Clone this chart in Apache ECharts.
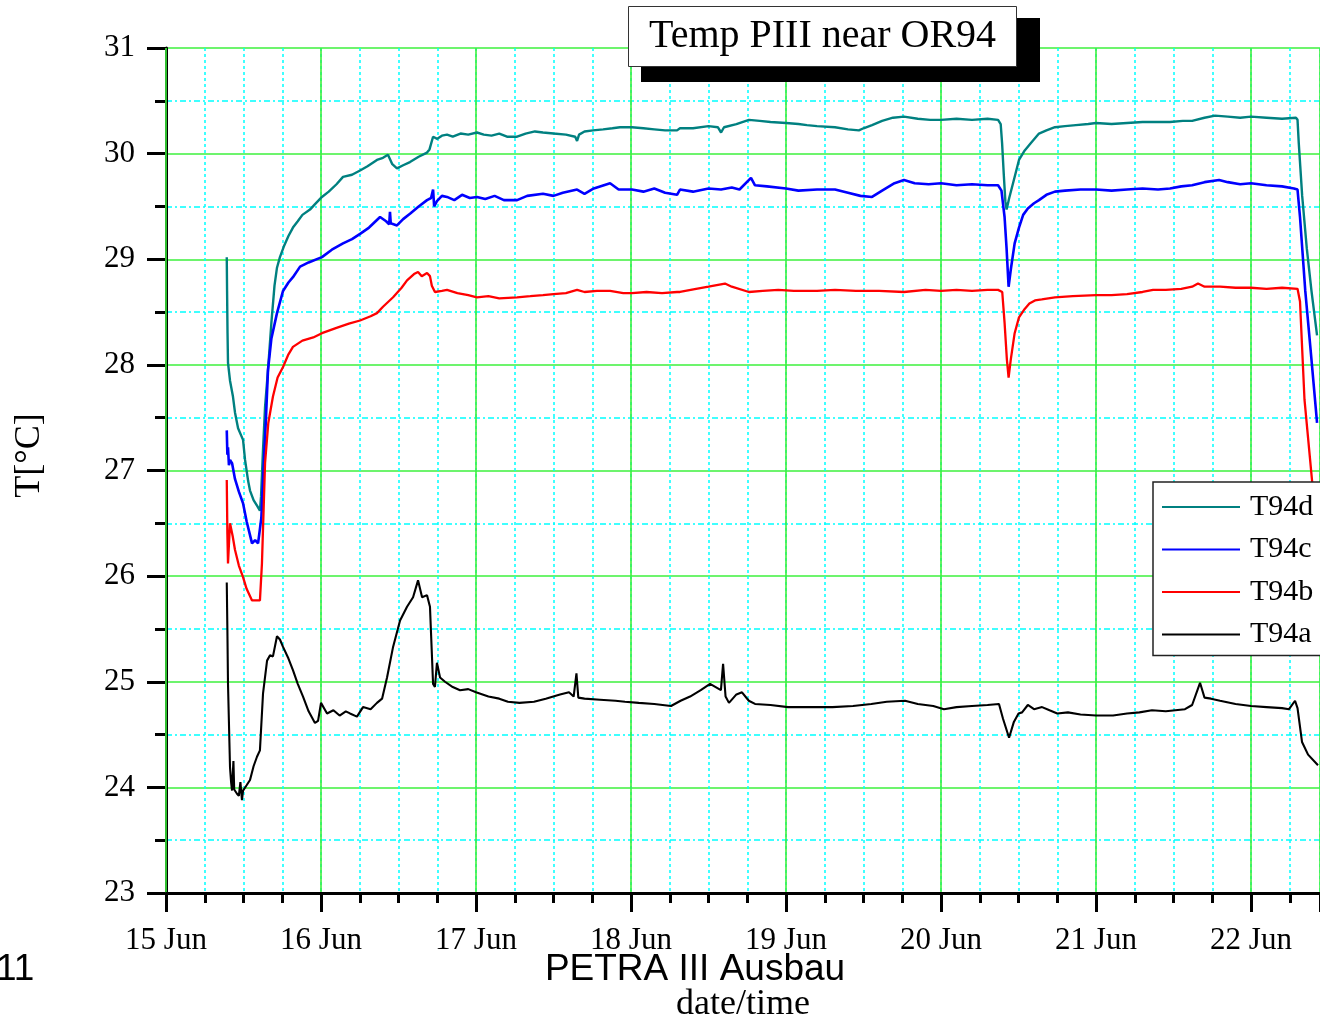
<!DOCTYPE html>
<html>
<head>
<meta charset="utf-8">
<script src="https://cdn.jsdelivr.net/npm/echarts@6/dist/echarts.min.js"></script>
<style>
html,body{margin:0;padding:0;background:#fff;}
#chart{width:1320px;height:1017px;}
</style>
</head>
<body>
<div id="chart"></div>
<script>
// x = day of June (decimal), y = temperature in °C
const seriesNames = ['T94d', 'T94c', 'T94b', 'T94a'];
const seriesColors = ['#008080', '#0000ff', '#ff0000', '#000000'];
const xTickLabels = {15:'15 Jun',16:'16 Jun',17:'17 Jun',18:'18 Jun',19:'19 Jun',20:'20 Jun',21:'21 Jun',22:'22 Jun'};
const yTickLabels = {23:'23',24:'24',25:'25',26:'26',27:'27',28:'28',29:'29',30:'30',31:'31'};

const T94d = [
[15.392,29.02],[15.394,28.70],[15.397,28.30],[15.400,28.02],[15.413,27.85],[15.432,27.70],[15.445,27.55],[15.465,27.40],
[15.497,27.29],[15.510,27.10],[15.530,26.90],[15.542,26.81],[15.565,26.72],[15.590,26.66],[15.606,26.62],[15.613,26.75],
[15.626,27.20],[15.639,27.60],[15.658,27.95],[15.680,28.40],[15.700,28.75],[15.716,28.92],[15.735,29.02],[15.760,29.12],
[15.790,29.22],[15.819,29.30],[15.850,29.36],[15.880,29.42],[15.929,29.47],[15.960,29.52],[16.006,29.59],[16.050,29.64],
[16.100,29.71],[16.142,29.78],[16.200,29.80],[16.252,29.84],[16.300,29.88],[16.361,29.94],[16.400,29.96],[16.432,29.99],
[16.460,29.90],[16.490,29.86],[16.530,29.89],[16.574,29.92],[16.630,29.97],[16.684,30.01],[16.700,30.04],[16.723,30.16],
[16.750,30.14],[16.780,30.17],[16.813,30.18],[16.850,30.16],[16.900,30.19],[16.950,30.18],[17.006,30.20],[17.050,30.18],
[17.100,30.17],[17.150,30.19],[17.200,30.16],[17.265,30.16],[17.320,30.19],[17.380,30.21],[17.432,30.20],[17.500,30.19],
[17.580,30.18],[17.640,30.16],[17.652,30.12],[17.665,30.18],[17.700,30.21],[17.755,30.22],[17.820,30.23],[17.880,30.24],
[17.929,30.25],[18.006,30.25],[18.080,30.24],[18.150,30.23],[18.220,30.22],[18.297,30.22],[18.316,30.24],[18.400,30.24],
[18.500,30.26],[18.560,30.25],[18.581,30.20],[18.600,30.25],[18.680,30.28],[18.761,30.32],[18.830,30.31],[18.900,30.30],
[19.000,30.29],[19.080,30.28],[19.135,30.27],[19.200,30.26],[19.316,30.25],[19.400,30.23],[19.470,30.22],[19.500,30.24],
[19.555,30.27],[19.620,30.31],[19.690,30.34],[19.761,30.35],[19.850,30.33],[19.930,30.32],[20.000,30.32],[20.100,30.33],
[20.200,30.32],[20.300,30.33],[20.368,30.32],[20.385,30.28],[20.394,30.10],[20.405,29.80],[20.415,29.55],[20.423,29.47],
[20.440,29.58],[20.470,29.75],[20.503,29.94],[20.540,30.03],[20.580,30.10],[20.632,30.19],[20.680,30.22],[20.735,30.25],
[20.800,30.26],[20.870,30.27],[20.950,30.28],[21.000,30.29],[21.100,30.28],[21.200,30.29],[21.300,30.30],[21.400,30.30],
[21.477,30.30],[21.560,30.31],[21.620,30.31],[21.700,30.34],[21.768,30.36],[21.850,30.35],[21.930,30.34],[22.000,30.35],
[22.100,30.34],[22.200,30.33],[22.290,30.34],[22.300,30.32],[22.308,30.10],[22.330,29.60],[22.360,29.10],[22.390,28.70],
[22.426,28.28]
];

const T94c = [
[15.392,27.38],[15.396,27.15],[15.400,27.22],[15.406,27.05],[15.413,27.10],[15.426,27.07],[15.445,26.92],[15.470,26.80],
[15.497,26.69],[15.520,26.52],[15.540,26.40],[15.555,26.31],[15.575,26.34],[15.594,26.31],[15.606,26.30],[15.615,26.55],
[15.626,26.91],[15.645,27.50],[15.658,27.95],[15.680,28.25],[15.716,28.49],[15.755,28.70],[15.790,28.78],[15.819,28.83],
[15.865,28.93],[15.920,28.97],[16.006,29.02],[16.070,29.09],[16.142,29.15],[16.200,29.19],[16.252,29.24],[16.310,29.30],
[16.381,29.40],[16.420,29.36],[16.440,29.33],[16.445,29.45],[16.450,29.34],[16.490,29.32],[16.530,29.38],[16.574,29.43],
[16.630,29.50],[16.684,29.56],[16.710,29.58],[16.723,29.66],[16.730,29.50],[16.748,29.55],[16.780,29.60],[16.813,29.59],
[16.860,29.56],[16.910,29.61],[16.960,29.58],[17.006,29.59],[17.060,29.57],[17.120,29.60],[17.180,29.56],[17.265,29.56],
[17.330,29.60],[17.432,29.62],[17.500,29.60],[17.560,29.63],[17.652,29.66],[17.700,29.62],[17.760,29.67],[17.865,29.72],
[17.920,29.66],[18.006,29.66],[18.080,29.64],[18.150,29.67],[18.220,29.63],[18.297,29.61],[18.316,29.66],[18.400,29.64],
[18.500,29.67],[18.581,29.66],[18.650,29.68],[18.700,29.66],[18.774,29.77],[18.800,29.70],[18.877,29.69],[19.000,29.67],
[19.080,29.65],[19.200,29.66],[19.316,29.66],[19.400,29.63],[19.480,29.60],[19.555,29.59],[19.620,29.65],[19.700,29.72],
[19.761,29.75],[19.830,29.72],[19.920,29.71],[20.000,29.72],[20.100,29.70],[20.200,29.71],[20.300,29.70],[20.368,29.70],
[20.390,29.65],[20.410,29.40],[20.423,29.10],[20.436,28.74],[20.450,28.90],[20.475,29.15],[20.503,29.30],[20.530,29.42],
[20.560,29.48],[20.600,29.53],[20.632,29.56],[20.680,29.61],[20.735,29.64],[20.800,29.65],[20.900,29.66],[21.000,29.66],
[21.100,29.65],[21.200,29.66],[21.300,29.67],[21.400,29.66],[21.477,29.67],[21.550,29.69],[21.620,29.70],[21.700,29.73],
[21.794,29.75],[21.850,29.73],[21.930,29.71],[22.000,29.72],[22.100,29.70],[22.200,29.69],[22.277,29.67],[22.300,29.66],
[22.316,29.40],[22.350,28.70],[22.390,28.05],[22.426,27.45]
];

const T94b = [
[15.392,26.91],[15.396,26.40],[15.400,26.12],[15.406,26.30],[15.413,26.50],[15.430,26.38],[15.445,26.25],[15.470,26.10],
[15.497,25.99],[15.520,25.88],[15.555,25.77],[15.580,25.77],[15.606,25.77],[15.619,26.12],[15.639,27.07],[15.660,27.45],
[15.690,27.70],[15.720,27.88],[15.755,27.98],[15.790,28.10],[15.819,28.17],[15.880,28.23],[15.950,28.26],[16.006,28.30],
[16.100,28.35],[16.180,28.39],[16.252,28.42],[16.320,28.46],[16.361,28.49],[16.400,28.55],[16.465,28.64],[16.520,28.73],
[16.555,28.80],[16.600,28.86],[16.626,28.88],[16.650,28.84],[16.684,28.87],[16.703,28.84],[16.715,28.75],[16.735,28.69],
[16.780,28.70],[16.813,28.71],[16.880,28.68],[16.950,28.66],[17.006,28.64],[17.080,28.65],[17.150,28.63],[17.265,28.64],
[17.350,28.65],[17.432,28.66],[17.500,28.67],[17.580,28.68],[17.652,28.71],[17.700,28.69],[17.780,28.70],[17.865,28.70],
[17.950,28.68],[18.006,28.68],[18.100,28.69],[18.200,28.68],[18.297,28.69],[18.316,28.69],[18.420,28.72],[18.500,28.74],
[18.606,28.77],[18.650,28.74],[18.761,28.69],[18.850,28.70],[18.950,28.71],[19.050,28.70],[19.200,28.70],[19.316,28.71],
[19.450,28.70],[19.600,28.70],[19.761,28.69],[19.900,28.71],[20.000,28.70],[20.100,28.71],[20.200,28.70],[20.300,28.71],
[20.368,28.71],[20.395,28.69],[20.410,28.40],[20.425,28.05],[20.436,27.88],[20.450,28.05],[20.475,28.30],[20.503,28.45],
[20.540,28.53],[20.570,28.58],[20.606,28.61],[20.650,28.62],[20.735,28.64],[20.850,28.65],[21.000,28.66],[21.100,28.66],
[21.200,28.67],[21.300,28.69],[21.368,28.71],[21.450,28.71],[21.550,28.72],[21.620,28.74],[21.658,28.77],[21.700,28.74],
[21.800,28.74],[21.900,28.73],[22.000,28.73],[22.100,28.72],[22.200,28.73],[22.300,28.72],[22.316,28.60],[22.345,27.67],
[22.394,26.90],[22.430,26.40]
];

const T94a = [
[15.392,25.94],[15.396,25.50],[15.400,24.98],[15.413,24.19],[15.420,24.05],[15.426,23.97],[15.435,24.25],[15.440,23.98],
[15.458,23.94],[15.470,23.92],[15.480,24.05],[15.490,23.88],[15.497,23.97],[15.520,24.02],[15.542,24.07],[15.565,24.20],
[15.587,24.29],[15.606,24.35],[15.626,24.89],[15.652,25.20],[15.671,25.25],[15.690,25.24],[15.716,25.43],[15.735,25.40],
[15.755,25.33],[15.790,25.22],[15.819,25.11],[15.850,24.98],[15.884,24.86],[15.920,24.72],[15.961,24.61],[15.981,24.63],
[16.000,24.80],[16.039,24.70],[16.080,24.73],[16.120,24.68],[16.160,24.72],[16.187,24.70],[16.232,24.67],[16.271,24.76],
[16.320,24.74],[16.361,24.80],[16.394,24.84],[16.426,25.04],[16.465,25.33],[16.510,25.58],[16.555,25.71],[16.594,25.80],
[16.626,25.96],[16.652,25.80],[16.684,25.82],[16.703,25.71],[16.723,24.98],[16.735,24.95],[16.748,25.18],[16.768,25.04],
[16.800,25.00],[16.850,24.95],[16.897,24.92],[16.950,24.93],[17.000,24.90],[17.080,24.86],[17.150,24.84],[17.206,24.81],
[17.280,24.80],[17.374,24.81],[17.450,24.84],[17.542,24.88],[17.600,24.90],[17.630,24.86],[17.648,25.08],[17.660,24.85],
[17.700,24.84],[17.800,24.83],[17.900,24.82],[17.961,24.81],[18.050,24.80],[18.150,24.79],[18.258,24.77],[18.320,24.82],
[18.381,24.86],[18.450,24.92],[18.510,24.98],[18.580,24.92],[18.594,25.17],[18.610,24.86],[18.632,24.80],[18.680,24.88],
[18.716,24.90],[18.760,24.82],[18.800,24.79],[18.900,24.78],[19.013,24.76],[19.150,24.76],[19.300,24.76],[19.432,24.77],
[19.550,24.79],[19.650,24.81],[19.768,24.82],[19.850,24.79],[19.950,24.77],[20.019,24.74],[20.100,24.76],[20.200,24.77],
[20.300,24.78],[20.374,24.79],[20.400,24.65],[20.439,24.47],[20.470,24.62],[20.500,24.70],[20.523,24.71],[20.560,24.78],
[20.600,24.74],[20.652,24.76],[20.700,24.73],[20.750,24.70],[20.819,24.71],[20.900,24.69],[21.000,24.68],[21.110,24.68],
[21.200,24.70],[21.280,24.71],[21.361,24.73],[21.450,24.72],[21.574,24.74],[21.620,24.78],[21.671,24.99],[21.700,24.85],
[21.742,24.84],[21.800,24.82],[21.900,24.79],[22.000,24.77],[22.100,24.76],[22.200,24.75],[22.245,24.74],[22.284,24.82],
[22.300,24.75],[22.329,24.43],[22.368,24.31],[22.432,24.21]
];

const seriesData = [T94d, T94c, T94b, T94a];
const seriesWidths = [2.4, 2.6, 2.3, 2.1];
const xMin = 15, xMax = 22.445;

const chart = echarts.init(document.getElementById('chart'), null, {renderer: 'canvas'});
const serif = 'Liberation Serif, Times New Roman, serif';
const sans = 'Liberation Sans, Arial, sans-serif';

const option = {
  animation: false,
  backgroundColor: '#ffffff',
  title: {
    text: 'Temp PIII near OR94',
    left: 628, top: 6,
    padding: [10, 21, 11, 21],
    backgroundColor: '#ffffff',
    borderColor: '#333333',
    borderWidth: 1,
    textStyle: {fontFamily: serif, fontSize: 40, fontWeight: 'normal', color: '#000'},
    z: 20
  },
  graphic: [
    {type: 'rect', z: 15, shape: {x: 641, y: 18, width: 399, height: 64}, style: {fill: '#000'}},
    {type: 'text', z: 15, style: {text: '11', x: -4, y: 970, font: '37px ' + sans, fill: '#000', textVerticalAlign: 'middle'}},
    {type: 'text', z: 15, style: {text: 'PETRA III Ausbau', x: 695, y: 970, font: '37px ' + sans, fill: '#000', textAlign: 'center', textVerticalAlign: 'middle'}}
  ],
  legend: {
    data: seriesNames,
    orient: 'vertical',
    left: 1153, top: 482,
    padding: [10, 30, 6, 9],
    itemGap: 12.5,
    itemWidth: 78,
    itemHeight: 2,
    icon: 'rect',
    backgroundColor: '#ffffff',
    borderColor: '#222222',
    borderWidth: 1.5,
    borderRadius: 0,
    textStyle: {fontFamily: serif, fontSize: 30, color: '#000', padding: [0, 0, 0, 5]},
    z: 20
  },
  grid: {left: 166, right: 0, top: 48, bottom: 124, containLabel: false, outerBoundsMode: 'none'},
  xAxis: [
    {
      // quarter-day (6 h) minor grid and ticks
      type: 'value', min: xMin, max: xMax, interval: 0.25, position: 'bottom', z: 0,
      axisLine: {show: false},
      axisTick: {show: true, length: 10, lineStyle: {color: '#000', width: 3}},
      axisLabel: {show: false},
      splitLine: {show: true, lineStyle: {color: '#00ffff', width: 1.5, type: [3, 3]}}
    },
    {
      type: 'value', min: xMin, max: xMax, interval: 1, position: 'bottom', z: 1,
      name: 'date/time', nameLocation: 'middle', nameGap: 94,
      nameTextStyle: {fontFamily: serif, fontSize: 36, color: '#000'},
      axisLine: {show: true, onZero: false, lineStyle: {color: '#000', width: 3}},
      axisTick: {show: true, length: 19, lineStyle: {color: '#000', width: 3}},
      axisLabel: {
        margin: 32, fontFamily: serif, fontSize: 31, color: '#000',
        formatter: v => xTickLabels[v] || ''
      },
      splitLine: {show: true, lineStyle: {color: '#3cf03c', width: 1.6}}
    }
  ],
  yAxis: {
    type: 'value', min: 23, max: 31, interval: 1,
    name: 'T[°C]', nameLocation: 'middle', nameGap: 118, nameRotate: 90,
    nameTextStyle: {fontFamily: serif, fontSize: 36, color: '#000', padding: [0, 0, 0, 30]},
    axisLine: {show: true, onZero: false, lineStyle: {color: '#000', width: 3}},
    axisTick: {show: true, length: 19, lineStyle: {color: '#000', width: 3}},
    minorTick: {show: true, splitNumber: 2, length: 11, lineStyle: {color: '#000', width: 3}},
    axisLabel: {
      margin: 31, fontFamily: serif, fontSize: 31, color: '#000',
      formatter: v => yTickLabels[v] || ''
    },
    splitLine: {show: true, lineStyle: {color: '#3cf03c', width: 1.6}},
    minorSplitLine: {show: true, lineStyle: {color: '#00ffff', width: 1.5, type: [6, 3, 2, 3]}}
  },
  series: seriesNames.map((n, i) => ({
    name: n,
    type: 'line',
    xAxisIndex: 1,
    data: seriesData[i],
    symbol: 'none',
    showSymbol: false,
    sampling: false,
    clip: true,
    color: seriesColors[i],
    lineStyle: {color: seriesColors[i], width: seriesWidths[i]},
    z: 3
  }))
};
chart.setOption(option);
</script>
</body>
</html>
